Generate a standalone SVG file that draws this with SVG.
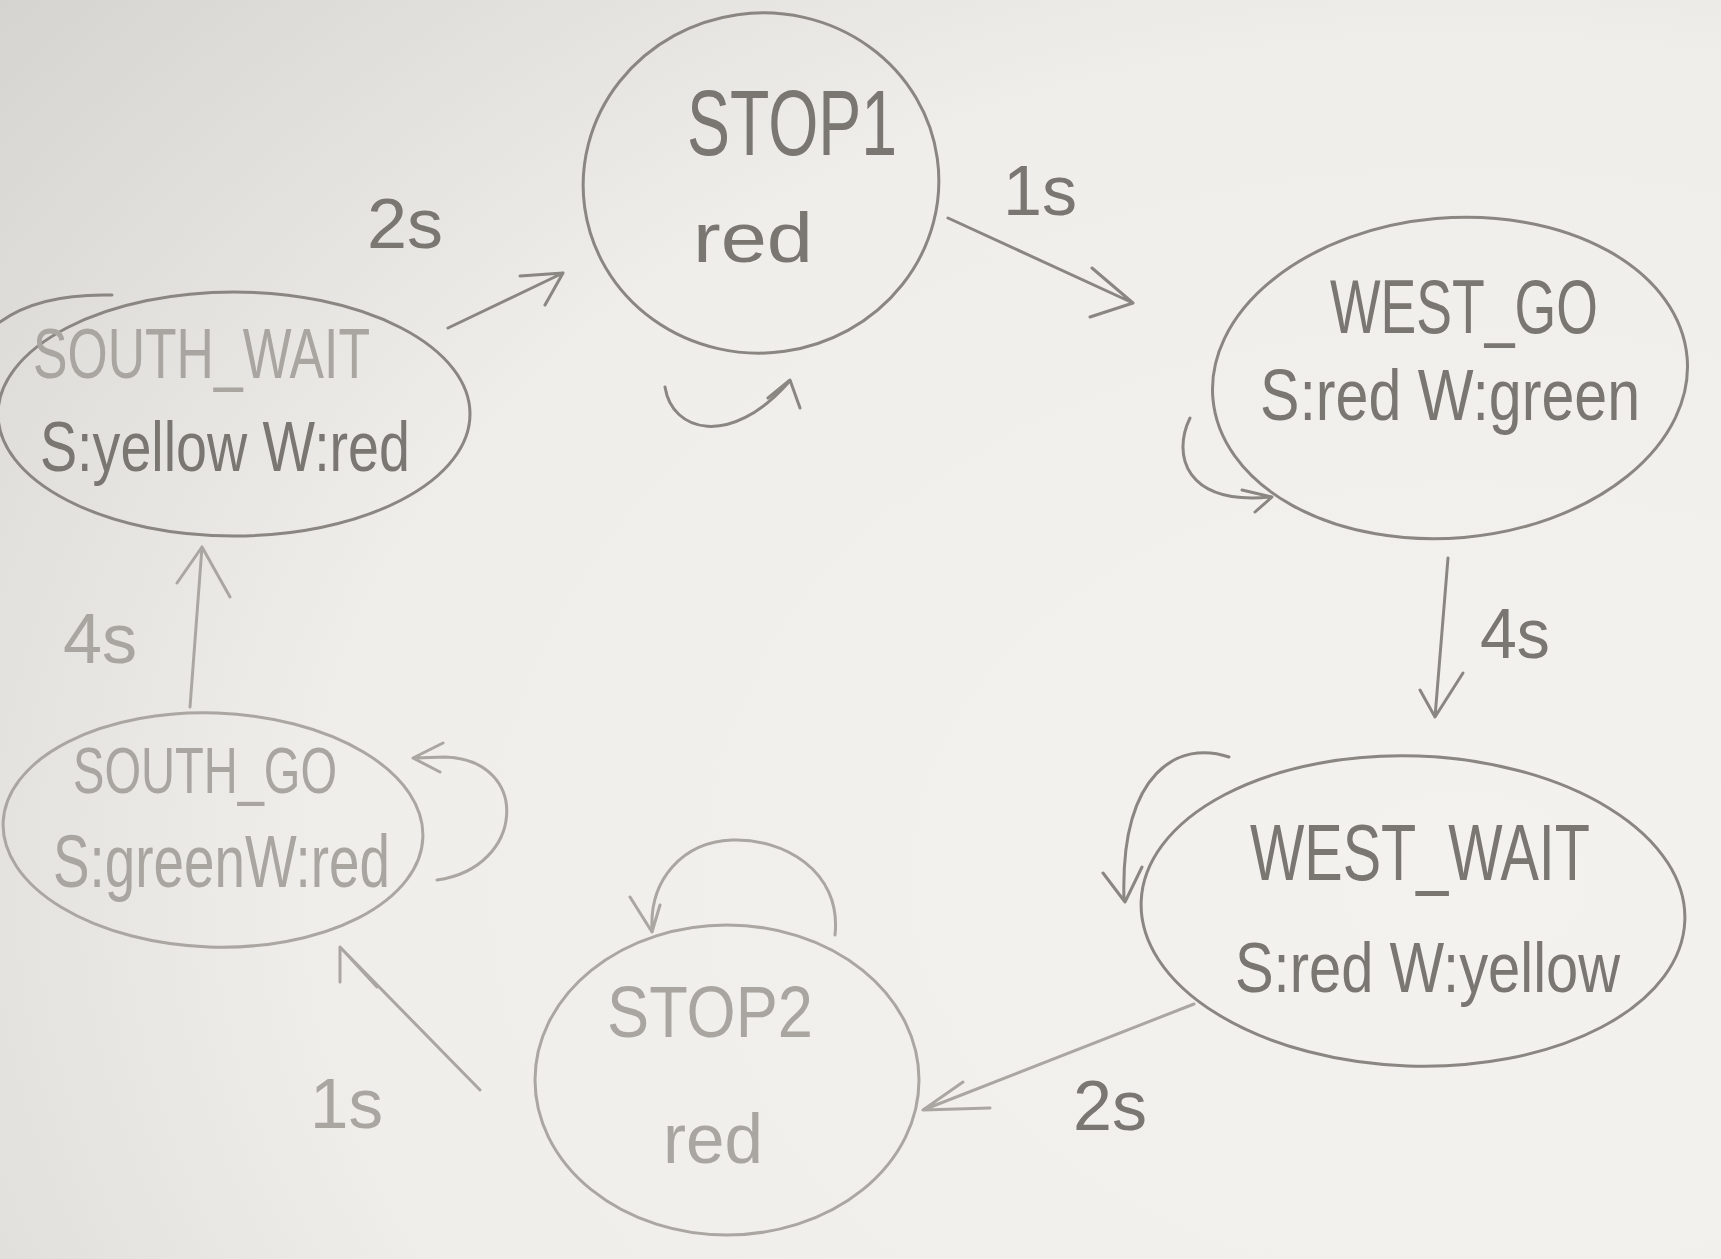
<svg xmlns="http://www.w3.org/2000/svg" width="1721" height="1259" viewBox="0 0 1721 1259">
<defs>
<radialGradient id="paper" cx="0.85" cy="0.7" r="1.1">
<stop offset="0" stop-color="#f3f2ee"/>
<stop offset="0.6" stop-color="#efeeea"/>
<stop offset="1" stop-color="#d6d4d0"/>
</radialGradient>
<style>
.st{fill:none;stroke:#8a8682;stroke-width:3;stroke-linecap:round;stroke-linejoin:round}
.lt{fill:none;stroke:#aaa6a2;stroke-width:3;stroke-linecap:round;stroke-linejoin:round}
.t{font-family:"Liberation Sans","DejaVu Sans",sans-serif;fill:#7a7672;text-anchor:start}
.tl{font-family:"Liberation Sans","DejaVu Sans",sans-serif;fill:#a9a5a1;text-anchor:start}
</style>
</defs>
<rect width="1721" height="1259" fill="url(#paper)"/>

<g id="connectors">
<!-- SOUTH_WAIT -> STOP1 -->
<path class="st" d="M448,328 L563,273 M520,276 L563,273 L545,305"/>
<text class="t" x="367" y="248" font-size="70" textLength="76" lengthAdjust="spacingAndGlyphs">2s</text>
<!-- STOP1 -> WEST_GO -->
<path class="st" d="M948,218 L1133,303 M1092,268 L1133,303 L1090,317"/>
<text class="t" x="1003" y="215" font-size="70" textLength="74" lengthAdjust="spacingAndGlyphs">1s</text>
<!-- WEST_GO -> WEST_WAIT -->
<path class="st" d="M1448,558 L1435,717 M1420,690 L1435,717 L1463,673"/>
<text class="t" x="1480" y="658" font-size="70" textLength="70" lengthAdjust="spacingAndGlyphs">4s</text>
<!-- WEST_WAIT -> STOP2 -->
<path class="lt" d="M1194,1004 L923,1110 M963,1082 L923,1110 L990,1108"/>
<text class="t" x="1073" y="1130" font-size="70" textLength="74" lengthAdjust="spacingAndGlyphs">2s</text>
<!-- STOP2 -> SOUTH_GO -->
<path class="lt" d="M480,1090 L340,947 M340,982 L340,947 L377,987"/>
<text class="tl" x="310" y="1128" font-size="70" textLength="73" lengthAdjust="spacingAndGlyphs">1s</text>
<!-- SOUTH_GO -> SOUTH_WAIT -->
<path class="lt" d="M190,707 L202,547 M177,583 L202,547 L230,597"/>
<text class="tl" x="63" y="663" font-size="70" textLength="74" lengthAdjust="spacingAndGlyphs">4s</text>
<!-- self loops -->
<path class="st" d="M665,387 C672,432 730,448 788,383 M768,398 L790,380 L800,408"/>
<path class="st" d="M1190,418 C1172,455 1185,505 1270,497 M1242,490 L1272,497 L1255,512"/>
<path class="st" d="M1229,757 C1180,740 1120,770 1124,900 M1103,873 L1125,902 L1142,867"/>
<path class="lt" d="M835,935 C842,870 782,838 732,840 C682,842 650,880 652,928 M630,897 L652,932 L660,905"/>
<path class="lt" d="M437,880 C525,868 532,760 445,757 L415,758 M443,743 L413,758 L440,772"/>
</g>

<g id="STOP1">
<ellipse class="st" cx="761" cy="183" rx="178" ry="170" transform="rotate(-8 761 183)"/>
<text class="t" x="687" y="155" font-size="92" textLength="210" lengthAdjust="spacingAndGlyphs">STOP1</text>
<text class="t" x="693" y="262" font-size="70" textLength="120" lengthAdjust="spacingAndGlyphs">red</text>
</g>

<g id="SOUTH_WAIT">
<ellipse class="st" cx="234" cy="414" rx="236" ry="122"/>
<path class="st" d="M0,322 C30,300 70,294 112,295"/>
<text class="tl" x="33" y="378" font-size="70" textLength="337" lengthAdjust="spacingAndGlyphs">SOUTH_WAIT</text>
<text class="t" x="40" y="471" font-size="70" textLength="370" lengthAdjust="spacingAndGlyphs">S:yellow W:red</text>
</g>

<g id="WEST_GO">
<ellipse class="st" cx="1450" cy="378" rx="238" ry="160" transform="rotate(-5 1450 378)"/>
<text class="t" x="1330" y="333" font-size="76" textLength="268" lengthAdjust="spacingAndGlyphs">WEST_GO</text>
<text class="t" x="1260" y="420" font-size="72" textLength="380" lengthAdjust="spacingAndGlyphs">S:red W:green</text>
</g>

<g id="WEST_WAIT">
<ellipse class="st" cx="1413" cy="911" rx="272" ry="155" transform="rotate(2 1413 911)"/>
<text class="t" x="1250" y="880" font-size="80" textLength="340" lengthAdjust="spacingAndGlyphs">WEST_WAIT</text>
<text class="t" x="1235" y="992" font-size="70" textLength="385" lengthAdjust="spacingAndGlyphs">S:red W:yellow</text>
</g>

<g id="STOP2">
<ellipse class="lt" cx="727" cy="1080" rx="192" ry="155"/>
<text class="tl" x="607" y="1037" font-size="72" textLength="206" lengthAdjust="spacingAndGlyphs">STOP2</text>
<text class="tl" x="663" y="1163" font-size="70" textLength="100" lengthAdjust="spacingAndGlyphs">red</text>
</g>

<g id="SOUTH_GO">
<ellipse class="lt" cx="213" cy="830" rx="210" ry="117" transform="rotate(2 213 830)"/>
<text class="tl" x="73" y="793" font-size="64" textLength="264" lengthAdjust="spacingAndGlyphs">SOUTH_GO</text>
<text class="tl" x="53" y="887" font-size="74" textLength="337" lengthAdjust="spacingAndGlyphs">S:greenW:red</text>
</g>
</svg>
